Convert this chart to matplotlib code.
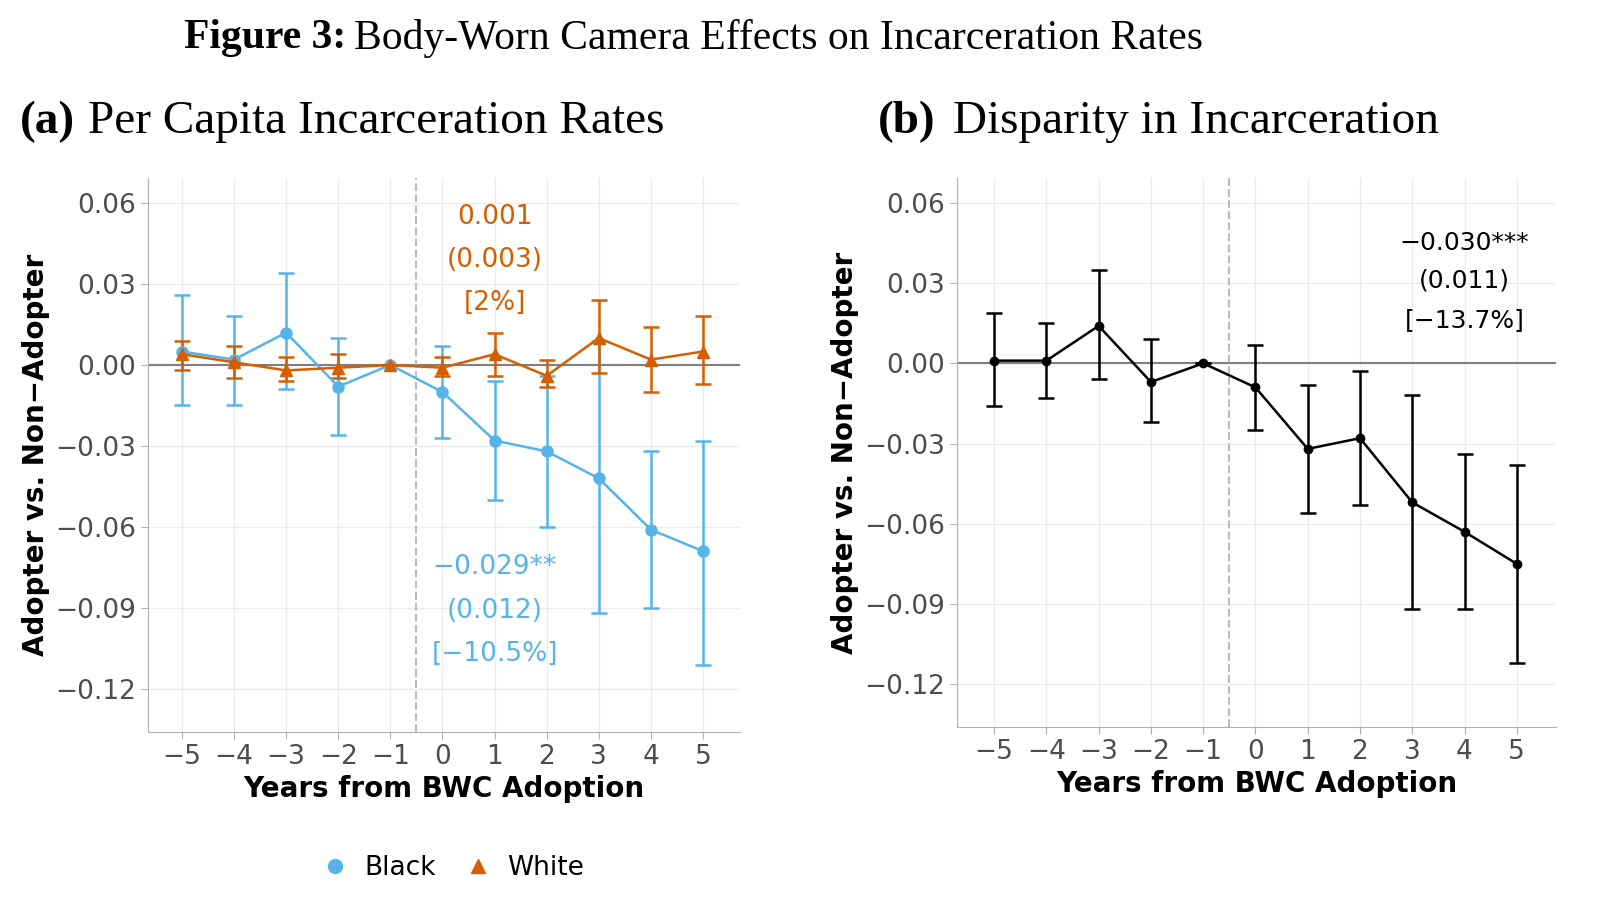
import numpy as np
import matplotlib.pyplot as plt

years = np.arange(-5, 6)

black_est = [0.005, 0.002, 0.012, -0.008, 0.0, -0.010, -0.028, -0.032, -0.042, -0.061, -0.069]
black_lo = [-0.015, -0.015, -0.009, -0.026, 0.0, -0.027, -0.050, -0.060, -0.092, -0.090, -0.111]
black_hi = [0.026, 0.018, 0.034, 0.010, 0.0, 0.007, -0.006, -0.004, 0.009, -0.032, -0.028]

white_est = [0.004, 0.001, -0.002, -0.001, 0.0, -0.001, 0.004, -0.004, 0.010, 0.002, 0.005]
white_lo = [-0.002, -0.005, -0.006, -0.005, 0.0, -0.004, -0.004, -0.008, -0.003, -0.010, -0.007]
white_hi = [0.009, 0.007, 0.003, 0.004, 0.0, 0.003, 0.012, 0.002, 0.024, 0.014, 0.018]

disp_est = [0.001, 0.001, 0.014, -0.007, 0.0, -0.009, -0.032, -0.028, -0.052, -0.063, -0.075]
disp_lo = [-0.016, -0.013, -0.006, -0.022, 0.0, -0.025, -0.056, -0.053, -0.092, -0.092, -0.112]
disp_hi = [0.019, 0.015, 0.035, 0.009, 0.0, 0.007, -0.008, -0.003, -0.012, -0.034, -0.038]

yticks = [0.06, 0.03, 0.0, -0.03, -0.06, -0.09, -0.12]
ytick_labels = ["0.06", "0.03", "0.00", "\u22120.03", "\u22120.06", "\u22120.09", "\u22120.12"]
xtick_labels = ["\u22125", "\u22124", "\u22123", "\u22122", "\u22121", "0", "1", "2", "3", "4", "5"]

BLUE = "#56B4E9"
ORANGE = "#D55E00"
SERIF = ["Liberation Serif", "DejaVu Serif"]


def draw_series(ax, est, lo, hi, color, marker, ms):
    est = np.array(est)
    err = [est - np.array(lo), np.array(hi) - est]
    ax.errorbar(years, est, yerr=err, color=color, marker=marker, ms=ms,
                lw=1.8, elinewidth=1.8, capsize=6, capthick=1.8, zorder=3)


def style_axes(ax, xlim):
    ax.set_xlim(*xlim)
    ax.set_ylim(-0.136, 0.0693)
    ax.set_yticks(yticks)
    ax.set_yticklabels(ytick_labels)
    ax.set_xticks(years)
    ax.set_xticklabels(xtick_labels)
    ax.tick_params(labelsize=19, colors="#4d4d4d", length=5, color="#b0b0b0")
    ax.grid(True, color="#ececec", lw=1.0)
    ax.set_axisbelow(True)
    for side in ["top", "right"]:
        ax.spines[side].set_visible(False)
    for side in ["left", "bottom"]:
        ax.spines[side].set_color("#b0b0b0")
    ax.axhline(0, color="#808080", lw=1.5, zorder=1)
    ax.axvline(-0.5, color="#bbbbbb", lw=1.5, ls="--", zorder=1)
    ax.set_xlabel("Years from BWC Adoption", fontsize=20, fontweight="bold")
    ax.set_ylabel("Adopter vs. Non\u2212Adopter", fontsize=20, fontweight="bold")


fig = plt.figure(figsize=(16.04, 9.14), dpi=100)
ax1 = fig.add_axes([148 / 1604, 1 - 732 / 914, 592 / 1604, 554 / 914])
ax2 = fig.add_axes([957 / 1604, 1 - 727 / 914, 599 / 1604, 549 / 914])

draw_series(ax1, black_est, black_lo, black_hi, BLUE, "o", 8)
draw_series(ax1, white_est, white_lo, white_hi, ORANGE, "^", 8)
style_axes(ax1, (-5.65, 5.71))
for yy, txt in [(0.055, "0.001"), (0.039, "(0.003)"), (0.023, "[2%]")]:
    ax1.text(1, yy, txt, color=ORANGE, fontsize=19, ha="center", va="center")
for yy, txt in [(-0.075, "\u22120.029**"), (-0.091, "(0.012)"), (-0.107, "[\u221210.5%]")]:
    ax1.text(1, yy, txt, color=BLUE, fontsize=19, ha="center", va="center")

draw_series(ax2, disp_est, disp_lo, disp_hi, "black", "o", 6)
style_axes(ax2, (-5.71, 5.75))
for yy, txt in [(0.045, "\u22120.030***"), (0.031, "(0.011)"), (0.016, "[\u221213.7%]")]:
    ax2.text(4.0, yy, txt, color="black", fontsize=18, ha="center", va="center")

ty = 1 - 38 / 914
fig.text(346 / 1604, ty, "Figure 3:", ha="right", va="center", fontsize=30,
         family=SERIF, fontweight="bold")
fig.text(354 / 1604, ty, "Body-Worn Camera Effects on Incarceration Rates",
         ha="left", va="center", fontsize=30, family=SERIF)

py = 1 - 122 / 914
fig.text(20 / 1604, py, "(a)", ha="left", va="center", fontsize=34,
         family=SERIF, fontweight="bold")
fig.text(88 / 1604, py, "Per Capita Incarceration Rates", ha="left",
         va="center", fontsize=34, family=SERIF)
fig.text(878 / 1604, py, "(b)", ha="left", va="center", fontsize=34,
         family=SERIF, fontweight="bold")
fig.text(953 / 1604, py, "Disparity in Incarceration", ha="left",
         va="center", fontsize=34, family=SERIF)

# legend
h1 = plt.Line2D([0], [0], color=BLUE, marker="o", ms=10, lw=0)
h2 = plt.Line2D([0], [0], color=ORANGE, marker="^", ms=10, lw=0)
fig.legend([h1, h2], ["Black", "White"], loc="center", bbox_to_anchor=(446 / 1604, 1 - 868 / 914),
           ncol=2, frameon=False, fontsize=19, handletextpad=0.1, columnspacing=0.6)

fig.savefig("out.png", dpi=100)
